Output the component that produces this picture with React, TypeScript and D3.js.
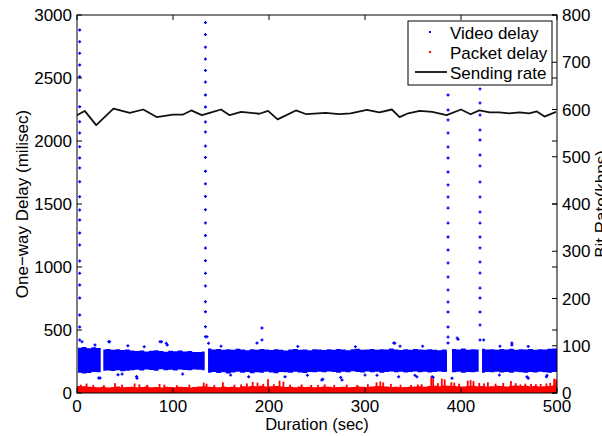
import React from "react";
import * as d3 from "d3";

// ---------- data ----------
const durationTicks = [0, 100, 200, 300, 400, 500];
const delayTicks = [0, 500, 1000, 1500, 2000, 2500, 3000];
const rateTicks = [0, 100, 200, 300, 400, 500, 600, 700, 800];

const legendLabels = ["Video delay", "Packet delay", "Sending rate"];

// dense video-delay cloud, 5-second bins (ms)
const BIN = 5;
const videoBandHigh = [
  360, 366, 356, 363, 358,
  346,
  350, 344, 348, 342, 346, 338,
  334, 338, 330, 336, 340, 333, 328, 336, 332, 338, 330, 334, 326,
  326, 330,
  353, 346, 350, 343, 348, 344, 352, 346, 340, 348, 344, 350, 346, 342, 348, 344, 338, 346, 350, 343, 346, 340, 348,
  346, 342, 348, 344, 350, 346, 340, 348, 352, 344, 346, 350, 343, 348, 345, 353, 346, 342, 348, 344, 350, 346, 343, 348, 344, 340, 346,
  338,
  350, 346, 353, 344, 348, 346,
  352, 346, 348, 344, 350, 346, 352, 343, 348, 346, 350, 344, 348, 346, 352, 353,
];
const videoBandLow = [
  161, 154, 158, 166, 164,
  176,
  178, 174, 181, 172, 176, 180,
  184, 178, 186, 182, 176, 188, 181, 184, 178, 186, 182, 180, 186,
  184, 181,
  161, 166, 158, 164, 154, 162, 168, 160, 166, 156, 164, 161, 168, 162, 156, 166, 164, 160, 168, 162, 158, 166, 164,
  168, 164, 171, 166, 161, 168, 164, 172, 166, 162, 170, 164, 168, 161, 166, 171, 164, 168, 162, 166, 170, 164, 168, 162, 166, 171, 166,
  171,
  164, 168, 161, 166, 164, 168,
  161, 166, 164, 168, 162, 166, 161, 168, 164, 160, 166, 162, 168, 164, 161, 166,
];
// time ranges where the cloud is present (gaps after stalls)
const videoSegments: [number, number][] = [
  [1, 24.7], [27.4, 133], [136.5, 385.4], [390.6, 418.4], [421.9, 500],
];
// isolated video-delay points [sec, ms]
const videoOutliers: [number, number][] = [
  [5.2, 407], [33, 407], [34, 407], [86.5, 407], [88, 407], [93, 394], [94, 381], [18.7, 381],
  [53, 375], [22.6, 119], [24, 119], [62.5, 117], [62, 130], [47, 150], [42.7, 145],
  [192.7, 516], [192.7, 421], [187.5, 397], [178.8, 129], [216.7, 129], [137, 394], [135.4, 447],
  [330, 397], [331, 394], [336.5, 372], [255, 103], [256, 109], [276, 103], [274.7, 124],
  [312.5, 140], [335, 129], [352, 140], [354, 129], [370, 129], [371, 124],
  [396, 436], [397, 426], [423.6, 421], [453, 397], [453, 381], [440.6, 372],
  [390.6, 117], [468.7, 129], [470, 117], [489.6, 140], [489, 129],
  [70, 368], [150, 372], [230, 370], [290, 368], [360, 372], [470, 370],
  [110, 150], [160, 142], [240, 140], [300, 142], [440, 142],
];
// stall spikes: frames delivered in a burst at one instant [sec] with delays [ms]
const spikeTimes = [2.8, 133.8, 386.5, 419.8];
const spikeA = [2881, 2788, 2696, 2603, 2510, 2402, 2272, 2153, 2064, 1955, 1865, 1786, 1677, 1558, 1452, 1373, 1270, 1175, 1048, 950, 857, 754, 619, 524, 421];
const spikeB = [3040, 2940, 2845, 2745, 2650, 2560, 2468, 2365, 2270, 2151, 2072, 1960, 1870, 1760, 1660, 1560, 1455, 1350, 1250, 1150, 1050, 950, 850, 725, 645, 526, 447];
const spikeC = [2365, 2246, 2167, 2064, 1953, 1865, 1754, 1651, 1556, 1468, 1349, 1238, 1135, 1032, 921, 818, 722, 643, 524, 444, 397];
const spikeD = [2413, 2302, 2206, 2087, 2008, 1889, 1802, 1675, 1556, 1437, 1349, 1238, 1151, 1040, 952, 833, 754, 643, 540, 421];

// packet delay: base level per 5-second bin (ms) and thin peaks [sec, ms]
const packetBase = [
  56, 53, 50, 48, 46, 50, 44, 48, 52, 46,
  48, 50, 46, 48, 52, 46, 48, 44, 50, 48,
  46, 50, 48, 44, 48, 52, 54, 50, 48, 46,
  52, 48, 50, 46, 54, 52, 56, 54, 58, 52,
  54, 56, 52, 48, 50, 46, 52, 48, 50, 46,
  48, 52, 50, 46, 48, 50, 46, 48, 52, 50,
  48, 52, 56, 54, 52, 48, 50, 46, 48, 50,
  52, 54, 50, 56, 58, 54, 60, 58, 56, 54,
  52, 56, 58, 54, 56, 52, 54, 58, 56, 52,
  58, 60, 56, 58, 54, 56, 52, 54, 56, 60,
];
const packetPeaks: [number, number][] = [
  [10, 75], [39.5, 78], [60, 75], [65, 68], [86, 72], [91, 66], [132, 82], [135, 74], [152, 85],
  [177, 76], [183, 88], [188, 82], [199, 110], [211, 97], [215, 90], [234, 68], [244, 64], [258, 68],
  [268, 64], [312, 85], [316, 92], [319, 84], [327, 72], [348, 64], [359, 70], [369, 124], [371, 112],
  [380, 114], [383, 108], [390, 85], [393, 82], [407, 98], [410, 102], [413, 95], [424, 76], [428, 85],
  [444, 80], [452, 95], [462, 68], [473, 72], [478, 70], [483, 72], [497, 114], [499, 108],
  [4, 66], [17, 64], [28, 62], [47, 66], [73, 64], [104, 62], [117, 66], [143, 64], [164, 66],
  [171, 68], [194, 72], [205, 70], [222, 66], [251, 64], [281, 66], [292, 64], [303, 70], [337, 66],
  [355, 68], [376, 78], [398, 74], [419, 80], [436, 74], [457, 78], [467, 74], [489, 76], [493, 80],
];

// sending rate (kbps)
const rateTime = [0, 8, 20, 38, 55, 69, 83, 100, 110, 119, 130, 140, 150, 159, 171, 190, 199, 209, 228, 239, 259, 273, 285, 302, 315, 328, 336, 345, 357, 370, 385, 400, 410, 419, 430, 440, 450, 461, 471, 479, 487, 499];
const rateKbps = [588, 597, 567, 602, 593, 600, 584, 589, 589, 598, 588, 594, 600, 588, 595, 591, 597, 579, 598, 590, 593, 590, 592, 599, 594, 600, 584, 592, 597, 595, 588, 600, 590, 598, 594, 594, 592, 594, 592, 596, 585, 595];

// ---------- layout ----------
const W = 602;
const H = 436;
const L = 77, R = 557, T = 15, B = 393;
const FONT = "'Liberation Sans', Arial, Helvetica, sans-serif";
const BLUE = "#0000ff";
const RED = "#ff0000";

export default function App() {
  const x = d3.scaleLinear().domain([0, 500]).range([L, R]);
  const yD = d3.scaleLinear().domain([0, 3000]).range([B, T]);
  const yR = d3.scaleLinear().domain([0, 800]).range([B, T]);

  type BP = { t: number; lo: number; hi: number };
  const band = d3
    .area<BP>()
    .x((d) => x(d.t))
    .y0((d) => yD(d.lo))
    .y1((d) => yD(d.hi))
    .curve(d3.curveStepAfter);

  const bandPaths = videoSegments.map(([a, b]) => {
    const pts: BP[] = [];
    videoBandHigh.forEach((hi, i) => {
      const s = i * BIN;
      const e = s + BIN;
      if (e <= a || s >= b) return;
      pts.push({ t: Math.max(s, a), lo: videoBandLow[i], hi });
    });
    const last = pts[pts.length - 1];
    pts.push({ t: b, lo: last.lo, hi: last.hi });
    return band(pts) || "";
  });

  type RP = { t: number; v: number };
  const redPts: RP[] = packetBase.map((v, i) => ({ t: i * BIN, v }));
  redPts.push({ t: 500, v: packetBase[packetBase.length - 1] });
  const redArea =
    d3
      .area<RP>()
      .x((d) => x(d.t))
      .y0(yD(0))
      .y1((d) => yD(d.v))
      .curve(d3.curveStepAfter)(redPts) || "";

  const ratePath =
    d3
      .line<number>()
      .x((_, i) => x(rateTime[i]))
      .y((d) => yR(d))(rateKbps) || "";

  const spikes = [spikeA, spikeB, spikeC, spikeD];
  const plus = (cx: number, cy: number, key: string, color: string) => (
    <path
      key={key}
      d={`M${cx - 1.5},${cy}H${cx + 1.5}M${cx},${cy - 1.5}V${cy + 1.5}`}
      stroke={color}
      strokeWidth={1.3}
      fill="none"
    />
  );

  const tickLen = 5;

  return (
    <svg
      width={W}
      height={H}
      style={{ position: "absolute", left: 0, top: 0, background: "#fff" }}
      fontFamily={FONT}
    >
      <defs>
        <clipPath id="plotClip">
          <rect x={L} y={T} width={R - L} height={B - T} />
        </clipPath>
      </defs>
      <rect x={0} y={0} width={W} height={H} fill="#fff" />

      <g clipPath="url(#plotClip)">
        {bandPaths.map((d, i) => (
          <path key={"band" + i} d={d} fill={BLUE} />
        ))}
        {videoOutliers.map(([t, v], i) => plus(x(t), yD(v), "o" + i, BLUE))}
        {spikes.map((vals, si) =>
          vals.map((v, j) => plus(x(spikeTimes[si]), yD(v), `s${si}-${j}`, BLUE))
        )}
        <path d={redArea} fill={RED} />
        {packetPeaks.map(([t, v], i) => (
          <rect
            key={"p" + i}
            x={x(t) - 0.9}
            y={yD(v)}
            width={1.8}
            height={yD(0) - yD(v)}
            fill={RED}
          />
        ))}
        <path d={ratePath} fill="none" stroke="#111" strokeWidth={1.8} strokeLinejoin="round" />
      </g>

      {/* frame */}
      <rect x={L} y={T} width={R - L} height={B - T} fill="none" stroke="#000" strokeWidth={1} />

      {/* x ticks */}
      {durationTicks.map((t) => (
        <g key={"x" + t}>
          <line x1={x(t)} x2={x(t)} y1={B} y2={B - tickLen} stroke="#000" />
          <line x1={x(t)} x2={x(t)} y1={T} y2={T + tickLen} stroke="#000" />
          <text x={x(t)} y={412} textAnchor="middle" fontSize={17}>
            {t}
          </text>
        </g>
      ))}

      {/* left ticks (mirrored on right) */}
      {delayTicks.map((v) => (
        <g key={"yl" + v}>
          <line x1={L} x2={L + tickLen} y1={yD(v)} y2={yD(v)} stroke="#000" />
          <line x1={R} x2={R - tickLen} y1={yD(v)} y2={yD(v)} stroke="#000" />
          <text x={72} y={yD(v)} dy="0.36em" textAnchor="end" fontSize={17}>
            {v}
          </text>
        </g>
      ))}

      {/* right ticks */}
      {rateTicks.map((v) => (
        <g key={"yr" + v}>
          <line x1={R} x2={R - tickLen} y1={yR(v)} y2={yR(v)} stroke="#000" />
          <text x={562} y={yR(v)} dy="0.36em" textAnchor="start" fontSize={17}>
            {v}
          </text>
        </g>
      ))}

      {/* axis titles */}
      <text x={(L + R) / 2} y={430} textAnchor="middle" fontSize={16.5}>
        Duration (sec)
      </text>
      <text
        transform={`translate(28,${(T + B) / 2}) rotate(-90)`}
        textAnchor="middle"
        fontSize={17}
      >
        One−way Delay (milisec)
      </text>
      <text
        transform={`translate(607,${(T + B) / 2}) rotate(-90)`}
        textAnchor="middle"
        fontSize={17}
      >
        Bit Rate(kbps)
      </text>

      {/* legend */}
      <g>
        <rect x={408} y={21} width={144} height={64} fill="#fff" stroke="#000" strokeWidth={1} />
        <rect x={429} y={31} width={2} height={2} fill={BLUE} />
        <rect x={429} y={51} width={2} height={2} fill={RED} />
        <line x1={415} x2={447} y1={72} y2={72} stroke="#111" strokeWidth={1.8} />
        {legendLabels.map((s, i) => (
          <text key={s} x={450} y={38.5 + i * 20.3} fontSize={17}>
            {s}
          </text>
        ))}
      </g>
    </svg>
  );
}
